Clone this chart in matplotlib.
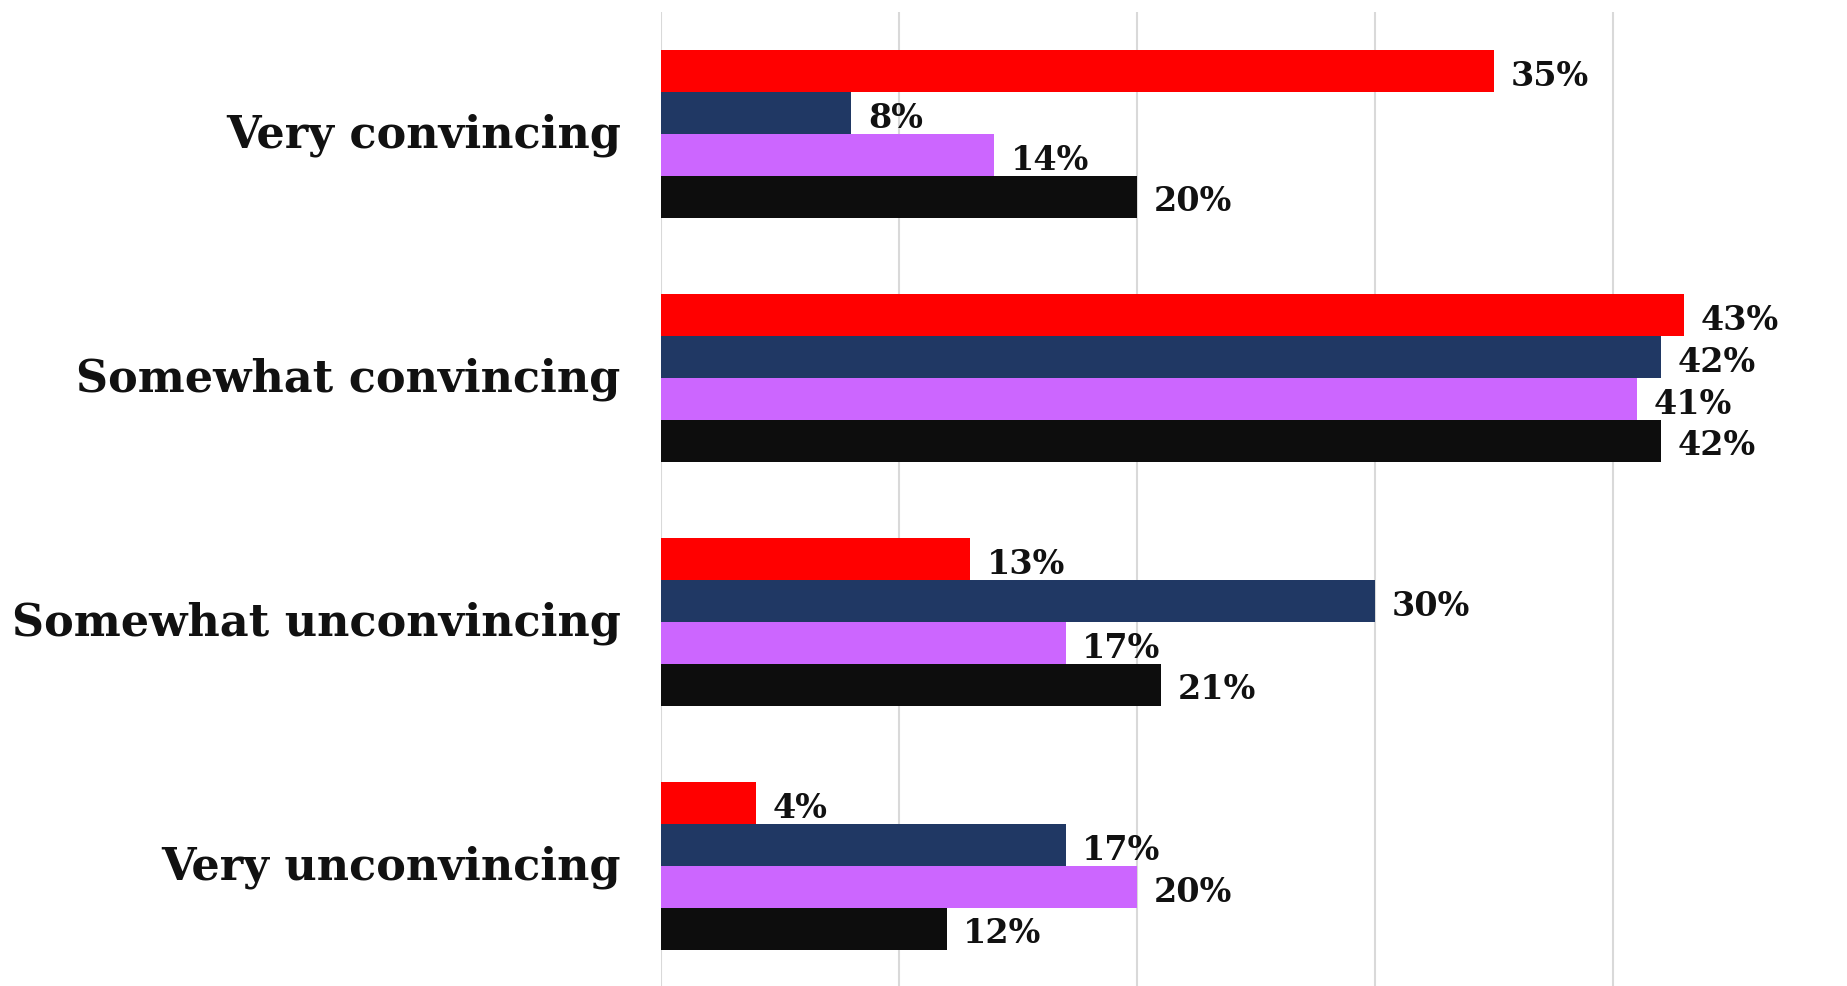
import matplotlib
matplotlib.use("Agg")
import matplotlib.pyplot as plt
import matplotlib.transforms as mtransforms
import numpy as np

categories = ["Very convincing", "Somewhat convincing", "Somewhat unconvincing", "Very unconvincing"]
series_names = ["Series 1", "Series 2", "Series 3", "Series 4"]
series_values = [
    [35, 43, 13, 4],
    [8, 42, 30, 17],
    [14, 41, 17, 20],
    [20, 42, 21, 12],
]
colors = ["#FF0000", "#203864", "#CC66FF", "#0D0D0D"]

W, H, DPI = 1847, 987, 100
fig = plt.figure(figsize=(W / DPI, H / DPI), dpi=DPI)
ax = fig.add_axes([661 / W, -2 / H, 1 - 661 / W, 976 / H])

n = len(series_values)
bar_h = 0.1713
y = np.arange(len(categories))
for i, (vals, c) in enumerate(zip(series_values, colors)):
    pos = y + (i - (n - 1) / 2) * bar_h
    bars = ax.barh(pos, vals, height=bar_h, color=c, edgecolor="none", zorder=3)
    for b, v in zip(bars, vals):
        ax.annotate(f"{v}%", (b.get_width(), b.get_y() + b.get_height() / 2),
                    xytext=(12, -3), textcoords="offset points",
                    ha="left", va="center", fontsize=24, fontweight="bold",
                    family="DejaVu Serif", color="#111111", zorder=4)

ax.set_xlim(0, (W - 661) / 23.8)
ax.set_ylim(3.5, -0.5)
ax.set_xticks([0, 10, 20, 30, 40])
ax.set_xticklabels([])
ax.xaxis.grid(True, color="#D9D9D9", linewidth=1.5, zorder=0)
ax.set_axisbelow(True)
ax.set_yticks(y)
ax.set_yticklabels(categories, fontsize=32, fontweight="bold", family="DejaVu Serif", color="#111111")
ax.tick_params(axis="both", length=0, pad=29)
offset = mtransforms.ScaledTranslation(0, 3 / 72, fig.dpi_scale_trans)
for lbl in ax.get_yticklabels():
    lbl.set_transform(lbl.get_transform() + offset)
for s in ax.spines.values():
    s.set_visible(False)

fig.savefig("out.png", dpi=DPI)
